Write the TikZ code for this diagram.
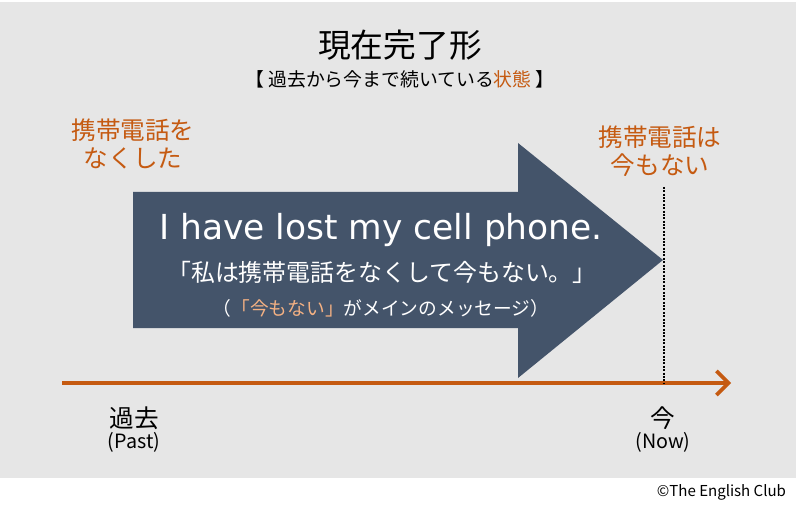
\documentclass[tikz,border=0pt]{standalone}
\usepackage{fontspec}
\setmainfont{Noto Sans CJK JP}
\newfontfamily\verdana{DejaVu Sans}
\usetikzlibrary{arrows.meta}
\definecolor{bggray}{RGB}{230,230,230}
\definecolor{slate}{RGB}{68,84,106}
\definecolor{rust}{RGB}{197,90,17}
\definecolor{peach}{RGB}{244,177,131}

\begin{document}
\begin{tikzpicture}[x=0.025cm, y=-0.025cm,
		orangelbl/.style={text=rust, align=center, font=\fontsize{17.5}{20}\selectfont},
		timelbl/.style={font=\fontsize{17.5}{20}\selectfont},
		timeen/.style={font=\fontsize{14}{16}\selectfont}]
		\useasboundingbox (0,0) rectangle (800,511);
		\fill[bggray] (0,2) rectangle (796,478);

		% big arrow
		\fill[slate] (133,192) -- (518,192) -- (518,143) -- (663,260) -- (518,378) -- (518,328) -- (133,328) -- cycle;

		\node (title) at (400,45) {\fontsize{23.3}{26}\selectfont 現在完了形};
		\node (subtitle) at (400,79) {\fontsize{13.4}{15}\selectfont 【 過去から今まで続いている\textcolor{rust}{状態} 】};

		\node[orangelbl] (lostLbl) at (133,144) {携帯電話を\\なくした};
		\node[orangelbl] (stillLbl) at (660,151) {携帯電話は\\今もない};

		\node[text=white] (sentence) at (381,230) {\verdana\fontsize{24.5}{28}\selectfont I have lost my cell phone.};
		\node[text=white] (sentenceJa) at (382,272) {\fontsize{17}{20}\selectfont 「私は携帯電話をなくして今もない。」};
		\node[text=white] (noteJa) at (381,308) {\fontsize{13.3}{15}\selectfont （\textcolor{peach}{「今もない」}がメインのメッセージ）};

		% time line
		\coordinate (tStart) at (62,383);
		\coordinate (tEnd) at (731,383);
		\draw[rust, line width=2.6pt, -{Straight Barb[length=3mm, width=6mm]}] (tStart) -- (tEnd);

		\coordinate (nowTop) at (664,187);
		\coordinate (nowFoot) at (664,383);
		\draw[line width=1.4pt, densely dotted] (nowTop) -- (nowFoot);

		\node[timelbl] (past) at (134,418) {過去};
		\node[timeen] (pastEn) at (134,442) {(Past)};
		\node[timelbl] (now) at (663,418) {今};
		\node[timeen] (nowEn) at (663,442) {(Now)};

		\node[anchor=east, font=\fontsize{10.7}{12}\selectfont] (credit) at (791,492) {©The English Club};
	\end{tikzpicture}
\end{document}
